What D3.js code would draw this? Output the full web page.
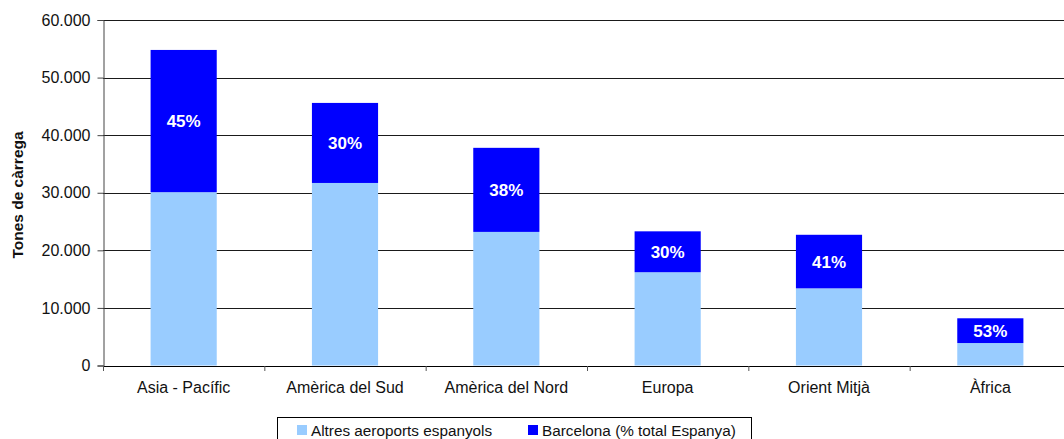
<!DOCTYPE html>
<html>
<head>
<meta charset="utf-8">
<script src="https://cdn.jsdelivr.net/npm/d3@7"></script>
<style>
  body { margin: 0; background: #fff; }
  svg { display: block; font-family: "Liberation Sans", Arial, sans-serif; }
</style>
</head>
<body>
<svg id="chart" width="1064" height="439"></svg>
<script>
// ---- DATA (tones de càrrega) ----
const regions   = ["Asia - Pacífic", "Amèrica del Sud", "Amèrica del Nord", "Europa", "Orient Mitjà", "Àfrica"];
const altres    = [30100, 31700, 23200, 16200, 13400, 3900];
const barcelona = [24700, 13900, 14600, 7100, 9300, 4300];
const pctLabels = ["45%", "30%", "38%", "30%", "41%", "53%"];
const yTicks    = [0, 10000, 20000, 30000, 40000, 50000, 60000];
const seriesNames = ["Altres aeroports espanyols", "Barcelona (% total Espanya)"];

// ---- STYLE ----
const COL_ALTRES = "#99ccff";
const COL_BCN    = "#0000ff";

const svg = d3.select("#chart");
const m = { left: 103, top: 20, right: 1071, bottom: 365.5 };

const locale = d3.formatLocale({ decimal: ",", thousands: ".", grouping: [3], currency: ["", "€"] });
const fmt = locale.format(",d");

const x = d3.scaleBand().domain(regions).range([m.left, m.right]).padding(0);
const y = d3.scaleLinear().domain([0, 60000]).range([m.bottom, m.top]);
const barW = x.bandwidth() * 0.41;

// gridlines
svg.append("g")
  .selectAll("line")
  .data(yTicks.slice(1))
  .join("line")
  .attr("x1", m.left).attr("x2", 1064)
  .attr("y1", d => Math.round(y(d)) + 0.5).attr("y2", d => Math.round(y(d)) + 0.5)
  .attr("stroke", "#1a1a1a").attr("stroke-width", 1);

// stacked bars
const rows = regions.map((r, i) => ({ r, a: altres[i], b: barcelona[i], p: pctLabels[i] }));
const g = svg.append("g");
g.selectAll("rect.altres")
  .data(rows).join("rect")
  .attr("class", "altres")
  .attr("x", d => x(d.r) + (x.bandwidth() - barW) / 2)
  .attr("width", barW)
  .attr("y", d => y(d.a))
  .attr("height", d => y(0) - y(d.a))
  .attr("fill", COL_ALTRES);
g.selectAll("rect.bcn")
  .data(rows).join("rect")
  .attr("class", "bcn")
  .attr("x", d => x(d.r) + (x.bandwidth() - barW) / 2)
  .attr("width", barW)
  .attr("y", d => y(d.a + d.b))
  .attr("height", d => y(d.a) - y(d.a + d.b))
  .attr("fill", COL_BCN);
g.selectAll("text.pct")
  .data(rows).join("text")
  .attr("class", "pct")
  .attr("x", d => x(d.r) + x.bandwidth() / 2)
  .attr("y", d => (y(d.a) + y(d.a + d.b)) / 2)
  .attr("dy", "0.36em")
  .attr("text-anchor", "middle")
  .attr("fill", "#fff")
  .attr("font-weight", "bold")
  .attr("font-size", 17)
  .text(d => d.p);

// y axis
const yAxis = svg.append("g")
  .attr("transform", `translate(${m.left + 0.5},0)`)
  .call(d3.axisLeft(y).tickValues(yTicks).tickFormat(fmt).tickSize(6).tickPadding(7));
yAxis.select(".domain").attr("stroke", "#444");
yAxis.selectAll(".tick line").attr("stroke", "#444");
yAxis.selectAll("text").attr("font-size", 16).attr("fill", "#111").attr("font-family", "Liberation Sans, Arial, sans-serif");

// x axis
const xAxis = svg.append("g")
  .attr("transform", `translate(0,${Math.round(m.bottom) + 0.5})`)
  .call(d3.axisBottom(x).tickSize(0).tickPadding(15));
xAxis.select(".domain").attr("stroke", "#000").attr("d", `M${m.left},0H1064`);
xAxis.selectAll("text").attr("font-size", 16).attr("fill", "#111").attr("font-family", "Liberation Sans, Arial, sans-serif");
// category separators
svg.append("g")
  .selectAll("line")
  .data(regions)
  .join("line")
  .attr("x1", d => x(d) + 0.5).attr("x2", d => x(d) + 0.5)
  .attr("y1", Math.round(m.bottom)).attr("y2", Math.round(m.bottom) + 5)
  .attr("stroke", "#555");

// y title
svg.append("text")
  .attr("transform", "translate(23,195) rotate(-90)")
  .attr("text-anchor", "middle")
  .attr("font-weight", "bold")
  .attr("font-size", 15.5)
  .attr("fill", "#111")
  .text("Tones de càrrega");

// legend
const lg = svg.append("g");
lg.append("rect")
  .attr("x", 277.5).attr("y", 417.5).attr("width", 474).attr("height", 30)
  .attr("fill", "#fff").attr("stroke", "#000");
const legendX = [297, 528];
[COL_ALTRES, COL_BCN].forEach((c, i) => {
  lg.append("rect").attr("x", legendX[i]).attr("y", 425).attr("width", 10).attr("height", 10).attr("fill", c);
  lg.append("text").attr("x", legendX[i] + 14).attr("y", 436)
    .attr("font-size", 15.3).attr("fill", "#111").text(seriesNames[i]);
});
</script>
</body>
</html>
